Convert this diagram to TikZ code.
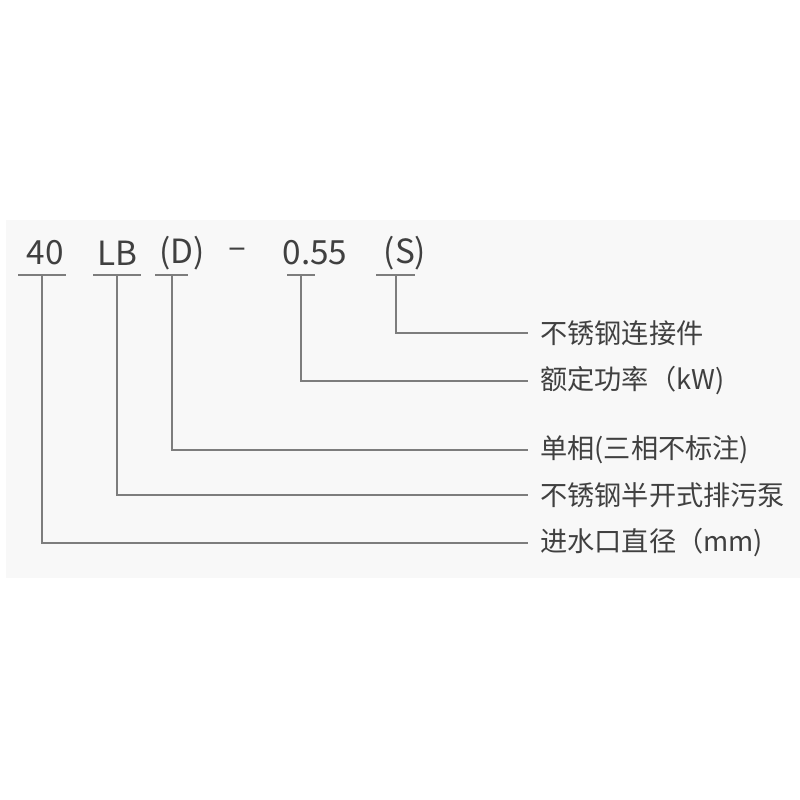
\documentclass[tikz,border=0pt]{standalone}
\usepackage{fontspec}
\setmainfont{Noto Sans CJK SC}
\definecolor{bgpanel}{RGB}{248, 248, 248}
\definecolor{leader}{RGB}{125, 125, 125}
\definecolor{ink}{RGB}{64, 64, 64}

\begin{document}
\begin{tikzpicture}[
x=0.75pt, y=-0.75pt,
code/.style={inner sep=0pt, text=ink, font=\fontsize{25}{29}\selectfont},
label/.style={anchor=west, inner xsep=9pt, inner ysep=0pt, text=ink, font=\fontsize{20.4}{24}\selectfont},
wire/.style={draw=leader, line width=1.1pt}
]
\useasboundingbox (0,0) rectangle (800,800);
\fill[bgpanel] (6,220) rectangle (800,578);

% Model code
\node (num40) [code] at (45,253) {40};
\node (numLB) [code] at (117,253) {LB};
\node (numD) [code] at (182,253) {(D)};
\node (dash) [code] at (237,253) {–};
\node (num055) [code] at (315,253) {0.55};
\node (numS) [code] at (405,253) {(S)};

% Underline marks
\coordinate (t40) at (42,275);
\coordinate (tLB) at (117,275);
\coordinate (tD) at (172,275);
\coordinate (t055) at (301,275);
\coordinate (tS) at (396,275);
\draw [wire] (18,275) -- (66,275);
\draw [wire] (93,275) -- (141,275);
\draw [wire] (155,275) -- (188,275);
\draw [wire] (287,275) -- (315,275);
\draw [wire] (376,275) -- (415,275);

% Meaning labels
\node (lbl_conn) [label] at (528,333) {不锈钢连接件};
\node (lbl_power) [label] at (528,381) {额定功率（kW)};
\node (lbl_phase) [label] at (528,450) {单相(三相不标注)};
\node (lbl_pump) [label] at (528,495) {不锈钢半开式排污泵};
\node (lbl_inlet) [label] at (528,543) {进水口直径（mm)};

% Leaders
\draw [wire] (tS) |- (lbl_conn.west);
\draw [wire] (t055) |- (lbl_power.west);
\draw [wire] (tD) |- (lbl_phase.west);
\draw [wire] (tLB) |- (lbl_pump.west);
\draw [wire] (t40) |- (lbl_inlet.west);

\end{tikzpicture}
\end{document}
